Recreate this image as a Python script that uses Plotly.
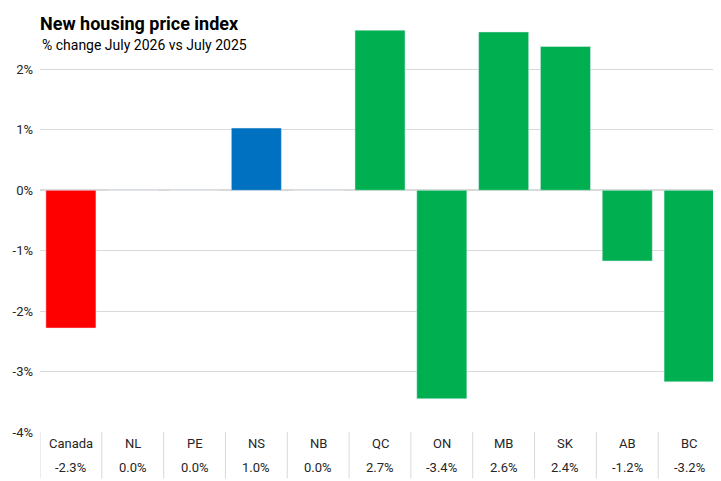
import plotly.graph_objects as go

regions = ['Canada', 'NL', 'PE', 'NS', 'NB', 'QC', 'ON', 'MB', 'SK', 'AB', 'BC']
changes = [-2.28, 0.0, 0.0, 1.03, 0.0, 2.65, -3.45, 2.62, 2.38, -1.17, -3.17]
labels = ['-2.3%', '0.0%', '0.0%', '1.0%', '0.0%', '2.7%', '-3.4%', '2.6%', '2.4%', '-1.2%', '-3.2%']
bar_colors = ['#ff0000', '#00b050', '#00b050', '#0070c0', '#00b050', '#00b050',
              '#00b050', '#00b050', '#00b050', '#00b050', '#00b050']

FONT = 'Liberation Sans Narrow, Roboto, sans-serif'
idx = list(range(len(regions)))

fig = go.Figure(go.Bar(x=idx, y=changes, marker_color=bar_colors, width=0.81))

# category table below the axis
for i in idx:
    fig.add_annotation(x=i, y=0, yref='paper', yanchor='top', yshift=-2,
                       text=regions[i], showarrow=False, font=dict(size=13, color='#262626'))
    fig.add_annotation(x=i, y=0, yref='paper', yanchor='top', yshift=-26,
                       text=labels[i], showarrow=False, font=dict(size=13, color='#262626'))
for i in range(len(regions) + 1):
    fig.add_shape(type='line', x0=i - 0.5, x1=i - 0.5, y0=0, y1=-0.11, yref='paper',
                  line=dict(color='#d9d9d9', width=1))

fig.add_annotation(x=0, y=1, xref='paper', yref='paper', xanchor='left', yanchor='top',
                   xshift=-2, yshift=-2, text='<b>New housing price index</b>', showarrow=False,
                   font=dict(size=18, color='black'))
fig.add_annotation(x=0, y=1, xref='paper', yref='paper', xanchor='left', yanchor='top',
                   xshift=0, yshift=-26, text='% change July 2026 vs July 2025', showarrow=False,
                   font=dict(size=14, color='black'))

fig.update_layout(
    width=721, height=481, margin=dict(l=32, r=9, t=1, b=57),
    plot_bgcolor='white', paper_bgcolor='white', showlegend=False,
    font=dict(family=FONT, color='#262626'),
    xaxis=dict(range=[-0.5, 10.5], showticklabels=False, showgrid=False, zeroline=False),
    yaxis=dict(range=[-4, 3], tickvals=[-4, -3, -2, -1, 0, 1, 2, 3],
               ticktext=['-4%', '-3%', '-2%', '-1%', '0%', '1%', '2%', '3%'],
               gridcolor='#d9d9d9', zeroline=True, zerolinecolor='#d9d9d9',
               tickfont=dict(size=13), ticks='', ticklabelstandoff=6),
)

fig.write_html("out.html")
